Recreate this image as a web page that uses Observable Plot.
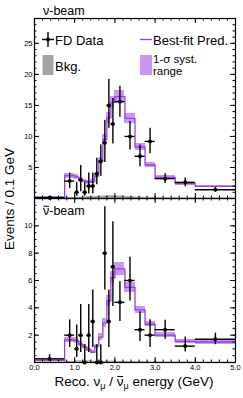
<!DOCTYPE html>
<html><head><meta charset="utf-8">
<script src="https://cdn.jsdelivr.net/npm/d3@7"></script>
<script src="https://cdn.jsdelivr.net/npm/@observablehq/plot@0.6"></script>
<style>
body{margin:0;background:#fff;}
#wrap{position:relative;width:243px;height:398px;font-family:"Liberation Sans",Arial,sans-serif;}
#wrap svg{position:absolute;left:0;}
</style></head><body><div id="wrap"></div>
<script>
// Bin edges (GeV)
const edges = [0, 0.75, 1.0, 1.1, 1.2, 1.3, 1.4, 1.5, 1.6, 1.7, 1.8, 1.9, 2.0, 2.25, 2.5, 2.75, 3.0, 3.5, 4.0, 5.0];

// nu-beam panel
const nuData = [0.13, 2.8, 1, 3, 1, 2, 2, 4, 6, 9, 15, 12, 15.6, 10, 6.8, 9.2, 3.2, 2.6, 1.4];
const nuLo   = [0.05, 1.6, 0.37, 1.1, 0.37, 0.74, 0.74, 2.2, 3.6, 5.8, 11.3, 8.8, 13.1, 7.8, 5.1, 7.2, 2.4, 1.9, 1.05];
const nuHi   = [0.37, 4.1, 2.6, 5.3, 2.6, 4.1, 4.1, 6.5, 8.6, 12.6, 19.2, 16.1, 18.1, 12.4, 8.6, 11.3, 4.0, 3.3, 1.78];
const nuPred = [0.2, 3.7, 3.5, 3.1, 2.8, 2.6, 2.7, 3.6, 6.0, 9.5, 13.0, 15.5, 16.4, 12.9, 8.3, 5.4, 3.4, 2.4, 1.95];
const nuSyst = [0.1, 0.4, 0.4, 0.35, 0.3, 0.3, 0.3, 0.4, 0.6, 0.8, 0.9, 1.0, 1.0, 0.8, 0.6, 0.45, 0.3, 0.25, 0.2];
const nuBkg  = [0.05, 0.15, 0.2, 0.25, 0.25, 0.3, 0.3, 0.35, 0.4, 0.4, 0.45, 0.45, 0.4, 0.3, 0.2, 0.15, 0.1, 0.08, 0.05];

// nubar-beam panel
const nubarData = [0.27, 2.0, 1.0, 2.0, 0, 2.0, 3.0, 0, 0, 8.0, 3.0, 7.0, 4.4, 6.0, 2.4, 2.0, 2.4, 1.2, 1.7];
const nubarLo   = [0.1, 1.1, 0.37, 0.74, 0, 0.74, 1.1, 0, 0, 5.3, 1.1, 4.1, 3.0, 4.5, 1.53, 1.1, 1.7, 0.76, 1.3];
const nubarHi   = [0.57, 3.12, 2.75, 4.25, 1.29, 4.25, 5.3, 1.29, 1.29, 11.4, 5.3, 10.3, 5.9, 7.7, 3.71, 3.12, 3.1, 1.86, 2.15];
const nubarPred = [0.15, 1.65, 1.6, 1.35, 1.15, 0.95, 0.75, 1.2, 1.85, 2.9, 4.5, 6.2, 6.85, 5.5, 3.85, 2.8, 2.0, 1.55, 1.5];
const nubarSyst = [0.05, 0.2, 0.2, 0.18, 0.15, 0.13, 0.12, 0.15, 0.25, 0.35, 0.4, 0.45, 0.45, 0.35, 0.25, 0.2, 0.17, 0.15, 0.15];
const nubarBkg  = [0.03, 0.08, 0.12, 0.12, 0.12, 0.12, 0.1, 0.1, 0.1, 0.1, 0.1, 0.1, 0.08, 0.06, 0.05, 0.04, 0.03, 0.03, 0.02];

// Axis ticks
const xTicks = [0, 1, 2, 3, 4, 5];
const xMinor = d3.range(0, 5.001, 0.2);
const nuYTicks = [5, 10, 15, 20, 25];
const nuYMinor = d3.range(0, 29.001, 1);
const nubarYTicks = [2, 4, 6, 8, 10];
const nubarYMinor = d3.range(0, 12.001, 0.5);

const LINE = "#9b3fdb", BAND = "#c996f8", BKG = "#a3a3a3";
const FONT = "Liberation Sans, Arial, Helvetica, sans-serif";

function table(data, lo, hi, pred, syst, bkg) {
  return data.map((v, i) => ({
    x1: edges[i], x2: edges[i + 1], xc: (edges[i] + edges[i + 1]) / 2,
    v, lo: lo[i], hi: hi[i], p: pred[i], pl: pred[i] - syst[i], ph: pred[i] + syst[i], b: bkg[i]
  }));
}

function panel({rows, ymax, yTicks, yMinor, height, mt, mb, showX}) {
  const fh = height - mt - mb;
  const step = rows.map(r => ({x: r.x1, y: r.p})).concat([{x: edges[edges.length - 1], y: rows[rows.length - 1].p}]);
  return Plot.plot({
    width: 243, height, marginLeft: 34, marginRight: 8, marginTop: mt, marginBottom: mb,
    style: {background: "transparent", fontSize: "7.5px", fontFamily: FONT, overflow: "visible", color: "black"},
    x: {domain: [0, 5], ...(showX ? {ticks: xTicks, tickSize: 0, tickPadding: 2, label: null} : {axis: null})},
    y: {domain: [0, ymax], ticks: yTicks, tickSize: 0, tickPadding: 2, label: null},
    marks: [
      Plot.rect(rows, {x1: "x1", x2: "x2", y1: 0, y2: "b", fill: BKG}),
      Plot.rect(rows, {x1: "x1", x2: "x2", y1: "pl", y2: "ph", fill: BAND, shapeRendering: "crispEdges"}),
      Plot.line(step, {x: "x", y: "y", curve: "step-after", stroke: LINE, strokeWidth: 1.3}),
      Plot.ruleY(rows, {y: "v", x1: "x1", x2: "x2", stroke: "black", strokeWidth: 1.4}),
      Plot.ruleX(rows, {x: "xc", y1: "lo", y2: "hi", stroke: "black", strokeWidth: 1.4}),
      Plot.dot(rows, {x: "xc", y: "v", r: 2, fill: "black", stroke: "none"}),
      // ticks (inward, ROOT style) on all four sides
      Plot.ruleX(xTicks, {x: d => d, insetTop: fh - 5, stroke: "black"}),
      Plot.ruleX(xMinor, {x: d => d, insetTop: fh - 2.5, stroke: "black"}),
      Plot.ruleX(xTicks, {x: d => d, insetBottom: fh - 5, stroke: "black"}),
      Plot.ruleX(xMinor, {x: d => d, insetBottom: fh - 2.5, stroke: "black"}),
      Plot.ruleY(yTicks, {y: d => d, insetRight: 201 - 5, stroke: "black"}),
      Plot.ruleY(yMinor, {y: d => d, insetRight: 201 - 2.5, stroke: "black"}),
      Plot.ruleY(yTicks, {y: d => d, insetLeft: 201 - 5, stroke: "black"}),
      Plot.ruleY(yMinor, {y: d => d, insetLeft: 201 - 2.5, stroke: "black"}),
      Plot.frame({stroke: "black", strokeWidth: 1.2})
    ]
  });
}

const wrap = document.getElementById("wrap");
const top1 = panel({rows: table(nuData, nuLo, nuHi, nuPred, nuSyst, nuBkg), ymax: 29, yTicks: nuYTicks, yMinor: nuYMinor, height: 202, mt: 18, mb: 4, showX: false});
top1.style.top = "0px";
wrap.appendChild(top1);
const bot = panel({rows: table(nubarData, nubarLo, nubarHi, nubarPred, nubarSyst, nubarBkg), ymax: 12, yTicks: nubarYTicks, yMinor: nubarYMinor, height: 202, mt: 2, mb: 36, showX: true});
bot.style.top = "196px";
wrap.appendChild(bot);

// Overlay: panel labels, legend, axis titles
const svg = d3.create("svg").attr("width", 243).attr("height", 398)
  .style("top", "0px").style("font-family", FONT).style("pointer-events", "none");
wrap.appendChild(svg.node());
const t = (x, y, s, size, anchor) => svg.append("text").attr("x", x).attr("y", y)
  .attr("font-size", size).attr("text-anchor", anchor || "start").attr("fill", "black").text(s);

// bar over a character of a text element (anti-neutrino)
function bar(textSel, idx, baseline, size) {
  const el = textSel.node();
  const a = el.getStartPositionOfChar(idx), b = el.getEndPositionOfChar(idx);
  const y = baseline - 0.7 * size;
  svg.append("line").attr("x1", a.x + 0.5).attr("x2", b.x - 0.3).attr("y1", y).attr("y2", y)
    .attr("stroke", "black").attr("stroke-width", 1);
}

t(43, 15, "ν-beam", 12.5);
const nb = t(43, 215, "ν-beam", 12.5);
bar(nb, 0, 215, 12.5);

// Legend: FD Data
svg.append("line").attr("x1", 48).attr("x2", 48).attr("y1", 32).attr("y2", 47).attr("stroke", "black").attr("stroke-width", 1.4);
svg.append("line").attr("x1", 42).attr("x2", 54).attr("y1", 39.5).attr("y2", 39.5).attr("stroke", "black").attr("stroke-width", 1.4);
svg.append("circle").attr("cx", 48).attr("cy", 39.5).attr("r", 2).attr("fill", "black");
t(55, 44.5, "FD Data", 13);
// Best-fit Pred.
svg.append("line").attr("x1", 140).attr("x2", 152).attr("y1", 39.5).attr("y2", 39.5).attr("stroke", LINE).attr("stroke-width", 1.3);
t(153, 44.5, "Best-fit Pred.", 13);
// Bkg.
svg.append("rect").attr("x", 42.5).attr("y", 55).attr("width", 11).attr("height", 20).attr("fill", BKG);
t(55, 71, "Bkg.", 13);
// 1-sigma
svg.append("rect").attr("x", 140).attr("y", 55).attr("width", 12).attr("height", 20).attr("fill", BAND);
t(153, 63, "1-σ syst.", 11.5);
t(153, 75, "range", 11.5);

// y title
svg.append("text").attr("transform", "translate(14,199) rotate(-90)").attr("text-anchor", "middle")
  .attr("font-size", 13.5).text("Events / 0.1 GeV");

// x title
const xt = svg.append("text").attr("x", 134).attr("y", 386).attr("text-anchor", "middle").attr("font-size", 13.5);
xt.append("tspan").text("Reco. ν");
xt.append("tspan").attr("font-size", 9).attr("dy", 3).text("μ");
xt.append("tspan").attr("dy", -3).text(" / ν");
xt.append("tspan").attr("font-size", 9).attr("dy", 3).text("μ");
xt.append("tspan").attr("dy", -3).text(" energy (GeV)");
// the second ν (anti-neutrino) is at character index 10: "Reco. ν" (7) + "μ" (1) + " / " (3) -> index 11? compute
{
  const full = "Reco. νμ / νμ energy (GeV)";
  const idx = full.indexOf("ν", 7);
  bar(xt, idx, 386, 13.5);
}
</script>
</body></html>
